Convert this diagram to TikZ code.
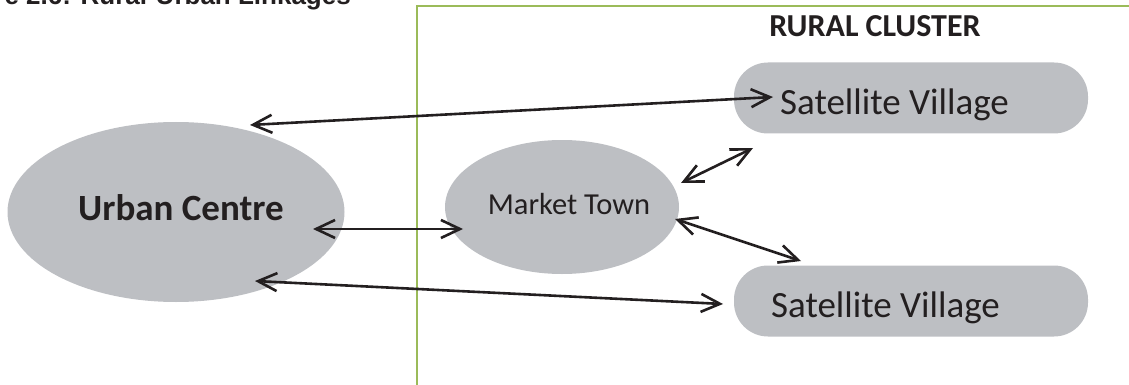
\documentclass[tikz,border=0pt]{standalone}
\usepackage{fontspec}
\setmainfont{Carlito}
\newfontfamily\titlefont{Liberation Sans}
\usetikzlibrary{shapes.geometric,arrows.meta}
\definecolor{shapegray}{RGB}{189,191,195}
\definecolor{ink}{RGB}{35,31,32}
\definecolor{framegreen}{RGB}{155,187,89}
\tikzset{
  ell/.style={ellipse, fill=shapegray, inner sep=0pt, draw=none},
  satbox/.style={rectangle, rounded corners=34pt, fill=shapegray, inner sep=0pt,
    minimum width=354pt, minimum height=71pt},
  lbl/.style={anchor=base, text=ink, inner sep=0pt},
  link/.style={draw=ink, line width=2.6pt,
    {Straight Barb[length=19pt,width=18pt]}-{Straight Barb[length=19pt,width=18pt]}},
  frame/.style={draw=framegreen, line width=1.6pt}
}
\begin{document}
\begin{tikzpicture}[x=1pt,y=-1pt]
\useasboundingbox (0,0) rectangle (1129,385);
\clip (0,0) rectangle (1129,385);
% title (cut off at the top edge, as in the reference)
\node[anchor=base east, inner sep=0pt, text=ink,
  font=\titlefont\bfseries\fontsize{26}{26}\selectfont] (title) at (351,5)
  {Figure 2.6: Rural-Urban Linkages};
% frame of the rural cluster
\coordinate (fb) at (417,390);
\coordinate (fc) at (417,6);
\coordinate (fr) at (1135,6);
\draw[frame] (fb) -- (fc) -- (fr);
\node[lbl, font=\bfseries\fontsize{32}{32}\selectfont] (rc) at (875,37) {RURAL CLUSTER};
% shapes
\node[ell, minimum width=337pt, minimum height=180pt] (uc) at (176,212) {};
\node[lbl, font=\bfseries\fontsize{37}{37}\selectfont] (uct) at (181,220) {Urban Centre};
\node[ell, minimum width=234pt, minimum height=134pt] (mt) at (562,207) {};
\node[lbl, font=\fontsize{30.5}{30.5}\selectfont] (mtt) at (569,214) {Market Town};
\node[satbox] (sv1) at (911,98) {};
\node[lbl, anchor=base west, font=\fontsize{37}{37}\selectfont] (sv1t) at (780,115) {Satellite Village};
\node[satbox] (sv2) at (911,301) {};
\node[lbl, anchor=base west, font=\fontsize{37}{37}\selectfont] (sv2t) at (771,317) {Satellite Village};
% connector end points
\coordinate (a1u) at (250,125);
\coordinate (a1s) at (773,97);
\coordinate (a2u) at (313,229);
\coordinate (a2m) at (463,229);
\coordinate (a3u) at (255,281);
\coordinate (a3s) at (723,304);
\coordinate (a4m) at (681,183);
\coordinate (a4s) at (753,148);
\coordinate (a5m) at (675,219);
\coordinate (a5s) at (801,261);
\draw[link] (a1u) -- (a1s);
\draw[link] (a2u) -- (a2m);
\draw[link] (a3u) -- (a3s);
\draw[link] (a4m) -- (a4s);
\draw[link] (a5m) -- (a5s);
\end{tikzpicture}
\end{document}
